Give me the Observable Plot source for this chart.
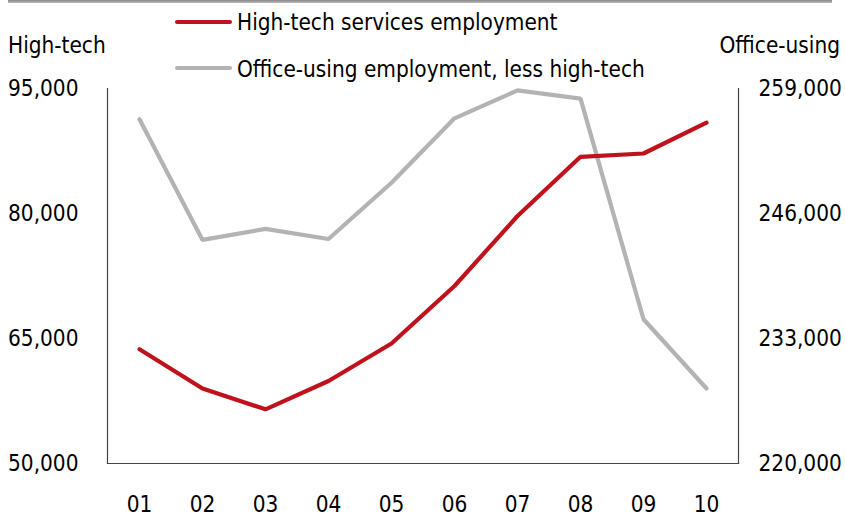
<!DOCTYPE html>
<html>
<head>
<meta charset="utf-8">
<script src="https://cdn.jsdelivr.net/npm/d3@7"></script>
<script src="https://cdn.jsdelivr.net/npm/@observablehq/plot@0.6"></script>
<style>
  html, body { margin: 0; padding: 0; background: #fff; }
  #wrap { position: relative; width: 845px; height: 516px; overflow: hidden;
    font-family: "Liberation Sans Narrow", "Arial Narrow", "DejaVu Sans Condensed", sans-serif; color: #000; }
  #topline { position: absolute; left: 8px; top: 0; width: 824px; height: 3px; background: linear-gradient(#888, #bbb); }
  .lab { position: absolute; font-size: 22.4px; line-height: 24px; white-space: nowrap; }
  .sw { position: absolute; height: 4px; border-radius: 2px; }
  #chart { position: absolute; left: 0; top: 0; }
</style>
</head>
<body>
<div id="wrap">
  <div id="chart"></div>
  <div id="topline"></div>
  <div class="sw" style="left:175px; top:20px; width:57px; background:#C0121C;"></div>
  <div class="lab" style="left:237px; top:10px;">High-tech services employment</div>
  <div class="sw" style="left:175px; top:66px; width:57px; background:#B3B3B3;"></div>
  <div class="lab" style="left:237px; top:57px;">Office-using employment, less high-tech</div>
  <div class="lab" style="left:8px; top:33px;">High-tech</div>
  <div class="lab" style="right:5px; top:33px;">Office-using</div>
</div>
<script>
const years = ["01","02","03","04","05","06","07","08","09","10"];
const highTech = [63700, 59000, 56500, 59900, 64400, 71300, 79700, 86800, 87200, 90900];
const officeUsing = [255800, 243250, 244400, 243350, 249200, 255900, 258800, 257950, 235000, 227800];

const leftTicks = [50000, 65000, 80000, 95000];
const rightTicks = [220000, 233000, 246000, 259000];

// map right-axis values onto the left scale
const rMin = 220000, rMax = 259000, lMin = 50000, lMax = 95000;
const toLeft = v => lMin + (v - rMin) * (lMax - lMin) / (rMax - rMin);

const hiData = years.map((y, i) => ({year: y, value: highTech[i]}));
const offData = years.map((y, i) => ({year: y, value: toLeft(officeUsing[i])}));

const fmt = d3.format(",");
const FS = 22.4;

const chart = Plot.plot({
  width: 845,
  height: 516,
  marginTop: 88,
  marginBottom: 53,
  marginLeft: 107,
  marginRight: 107,
  style: {fontFamily: '"Liberation Sans Narrow", "Arial Narrow", "DejaVu Sans Condensed", sans-serif', fontSize: FS + "px", color: "#000", background: "transparent"},
  x: {type: "point", domain: years, padding: 0.5},
  y: {domain: [lMin, lMax]},
  marks: [
    Plot.axisX({tickSize: 0, tickPadding: 33, label: null, fontSize: FS}),
    Plot.axisY({anchor: "left", ticks: leftTicks, tickSize: 0, tickPadding: 29, tickFormat: fmt, label: null, fontSize: FS}),
    Plot.axisY({anchor: "right", ticks: leftTicks, tickSize: 0, tickPadding: 20,
      tickFormat: (d) => fmt(rightTicks[leftTicks.indexOf(d)]), label: null, fontSize: FS}),
    Plot.frame({anchor: "left", stroke: "#444", strokeWidth: 1.2}),
    Plot.frame({anchor: "right", stroke: "#444", strokeWidth: 1.2}),
    Plot.frame({anchor: "bottom", stroke: "#444", strokeWidth: 1.2}),
    Plot.line(offData, {x: "year", y: "value", stroke: "#B3B3B3", strokeWidth: 4.2, strokeLinecap: "round", strokeLinejoin: "miter"}),
    Plot.line(hiData, {x: "year", y: "value", stroke: "#C0121C", strokeWidth: 4.2, strokeLinecap: "round", strokeLinejoin: "miter"})
  ]
});
document.getElementById("chart").appendChild(chart);
</script>
</body>
</html>
